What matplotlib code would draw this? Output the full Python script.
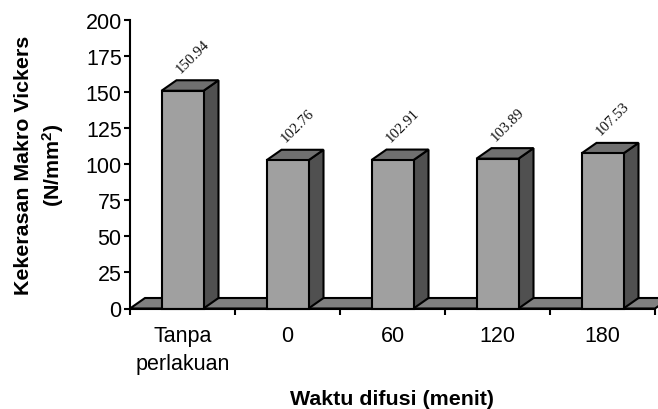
import numpy as np
import matplotlib
matplotlib.use("Agg")
import matplotlib.pyplot as plt
from matplotlib.patches import Polygon

categories = ["Tanpa\nperlakuan", "0", "60", "120", "180"]
hardness   = [150.94, 102.76, 102.91, 103.89, 107.53]
y_ticks    = [0, 25, 50, 75, 100, 125, 150, 175, 200]

plt.rcParams["font.family"] = ["Liberation Sans", "DejaVu Sans"]
plt.rcParams["mathtext.fontset"] = "custom"
plt.rcParams["mathtext.bf"] = "Liberation Sans:bold"
plt.rcParams["mathtext.rm"] = "Liberation Sans:bold"

FRONT = "#a0a0a0"
TOP   = "#707070"
SIDE  = "#505050"
FLOOR = "#808080"
EDGE  = "#000000"

fig = plt.figure(figsize=(6.58, 4.10), dpi=100)
ax = fig.add_axes([130 / 658, (410 - 309.5) / 410, 525 / 658, 288.5 / 410])
ax.set_xlim(0, len(categories))
ax.set_ylim(0, 200)

# depth of the fake 3d, in data units
dx = 15 / 105
dy = 10.5 / 288.5 * 200
bar_w = 42 / 105
lw = 1.5


def poly(pts, color, z):
    ax.add_patch(Polygon(pts, closed=True, facecolor=color, edgecolor=EDGE,
                         linewidth=lw, joinstyle="miter", zorder=z, clip_on=False))


# floor, runs off the right edge of the figure
xmax = len(categories)
poly([(0, 0), (dx, dy), (xmax + dx, dy), (xmax, 0)], FLOOR, 1)

for i, v in enumerate(hardness):
    x0 = i + 0.5 - bar_w / 2
    x1 = x0 + bar_w
    poly([(x1, 0), (x1 + dx, dy), (x1 + dx, v + dy), (x1, v)], SIDE, 2)
    poly([(x0, v), (x0 + dx, v + dy), (x1 + dx, v + dy), (x1, v)], TOP, 2)
    poly([(x0, 0), (x0, v), (x1, v), (x1, 0)], FRONT, 3)
    ax.annotate(f"{v:.2f}", xy=(i + 0.5, v), xytext=(0.6, 11.4), textcoords="offset points",
                rotation=45, rotation_mode="anchor", ha="left", va="bottom",
                fontsize=10.7, family="Liberation Serif", color="#111111",
                annotation_clip=False, zorder=5)

ax.spines["top"].set_visible(False)
ax.spines["right"].set_visible(False)
for s in ["left", "bottom"]:
    ax.spines[s].set_linewidth(1.5)
    ax.spines[s].set_zorder(6)

ax.set_yticks(y_ticks)
ax.set_xticks(np.arange(len(categories) + 1))
ax.set_xticklabels([])
ax.set_xticks(np.arange(len(categories)) + 0.5, minor=True)
ax.set_xticklabels(categories, minor=True, fontsize=15.5, linespacing=1.4)
ax.tick_params(axis="x", which="minor", length=0, pad=12)
ax.tick_params(axis="x", which="major", length=4.5, width=1.5, direction="out")
ax.tick_params(axis="y", length=4, width=1.5, direction="out", labelsize=15.5, pad=2)

fig.text(392.5 / 658, 1 - 400 / 410, "Waktu difusi (menit)", fontsize=15.4, fontweight="bold",
         ha="center", va="center")
fig.text(40 / 658, 1 - 165.5 / 410, "Kekerasan Makro Vickers\n(N/mm$\\mathbf{^2}$)", fontsize=15.4,
         fontweight="bold", rotation=90, ha="center", va="center", multialignment="center",
         linespacing=1.4)

fig.savefig("out.png", dpi=100)
